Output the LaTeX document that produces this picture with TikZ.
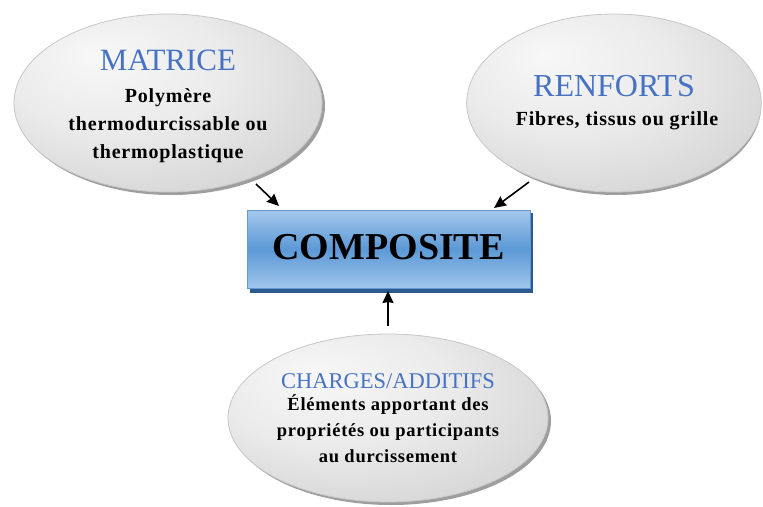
\documentclass[tikz,border=0pt]{standalone}
\usepackage{fontspec}
\setmainfont{Liberation Serif}
\newfontfamily\bodyfont{Liberation Serif}[LetterSpace=4]
\usetikzlibrary{arrows.meta,shapes.geometric}
\definecolor{titleblue}{RGB}{70,114,196}
\definecolor{boxtop}{RGB}{165,200,236}
\definecolor{boxmid}{RGB}{92,153,214}
\definecolor{boxbot}{RGB}{160,197,234}
\definecolor{boxedge}{RGB}{100,150,210}
\definecolor{boxshadow}{RGB}{45,90,140}
\pgfdeclareradialshading{ellgray}{\pgfpoint{-12bp}{14bp}}{%
  color(0bp)=(black!3);color(18bp)=(black!8);color(34bp)=(black!16);color(48bp)=(black!26);color(60bp)=(black!30)}
\newcommand\ttlfont[1]{\mdseries\rmfamily\fontsize{#1}{#1}\selectfont\color{titleblue}}
\tikzset{
  bubble/.style={ellipse, draw=black!22, line width=0.8pt, shading=ellgray,
    align=center, inner sep=0pt, font=\bodyfont\bfseries\fontsize{20}{28}\selectfont},
  linkarrow/.style={-{Stealth[length=12pt,width=11pt,inset=1pt]}, line width=1.6pt, black}
}
\begin{document}
\begin{tikzpicture}[x=1pt,y=-1pt]
\useasboundingbox (0,0) rectangle (763,506);
% shadows of bubbles
\fill[black!38] (171,106) ellipse [x radius=154, y radius=89];
\fill[black!38] (616,106) ellipse [x radius=145, y radius=89];
\fill[black!38] (391,421) ellipse [x radius=160, y radius=84];
% bubbles
\node[bubble, minimum width=308pt, minimum height=178pt] (mat) at (168,103)
  {\rule{0pt}{8pt}\\[-8pt]{\ttlfont{31}MATRICE}\\[4pt]
   Polymère\\ thermodurcissable ou\\ thermoplastique};
\node[bubble, minimum width=290pt, minimum height=178pt] (ren) at (614,103)
  {{\ttlfont{32}RENFORTS}\\[1pt]
   \hspace*{6pt}Fibres, tissus ou grille};
\node[bubble, minimum width=320pt, minimum height=168pt, font=\bodyfont\bfseries\fontsize{18.5}{26}\selectfont] (chg) at (388,418)
  {{\ttlfont{22.5}CHARGES/ADDITIFS}\\[-4pt]
   Éléments apportant des\\ propriétés ou participants\\ au durcissement};
% composite box
\fill[boxshadow] (250,213) rectangle (533,293);
\node[draw=boxedge, line width=0.8pt, top color=boxtop, bottom color=boxbot, middle color=boxmid,
  minimum width=283pt, minimum height=78pt, inner sep=0pt,
  font=\rmfamily\bfseries\fontsize{38}{40}\selectfont] (comp) at (388.5,249) {\raisebox{4pt}{COMPOSITE}};
% arrows
\coordinate (m1) at (256,184);
\coordinate (m2) at (279,206);
\coordinate (r1) at (529,182);
\coordinate (r2) at (494,208);
\coordinate (c1) at (388,326);
\coordinate (c2) at (388,291);
\draw[linkarrow] (m1) -- (m2);
\draw[linkarrow] (r1) -- (r2);
\draw[linkarrow] (c1) -- (c2);
\end{tikzpicture}
\end{document}
